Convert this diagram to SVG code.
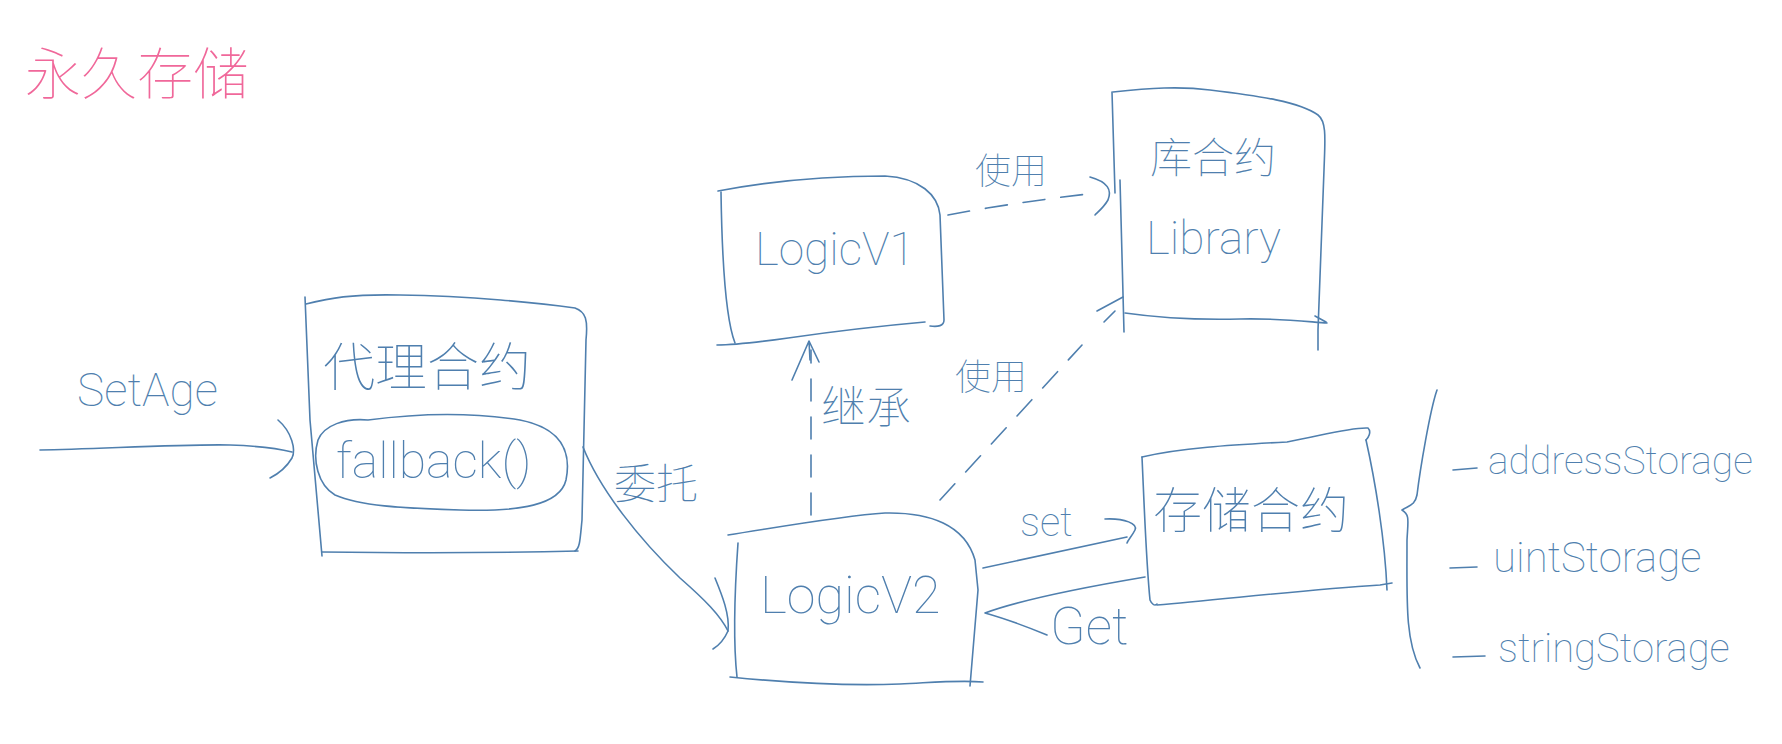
<svg xmlns="http://www.w3.org/2000/svg" width="1782" height="744" viewBox="0 0 1782 744">
<style>
.s{fill:none;stroke:#4f7fae;stroke-width:1.6;stroke-linecap:round;stroke-linejoin:round}
.d{stroke-dasharray:22 16}
.t{fill:#4f7fae;font-family:Roboto,"Liberation Sans","Noto Sans CJK SC",sans-serif;font-weight:100}
.c{fill:#4f7fae;font-family:"Noto Sans CJK SC",sans-serif;font-weight:100}
.p{fill:#f0689a;font-family:"Noto Sans CJK SC",sans-serif;font-weight:100}
</style>
<rect width="1782" height="744" fill="#ffffff"/>
<g id="title">
<text class="p" x="25" y="94" font-size="56">永久存储</text>
</g>
<g id="proxy">
<path class="s" d="M306,304 C330,298 350,294 400,295 C470,296 540,303 575,308 C586,312 588,320 586,340 L582,520 C580,540 580,548 575,551"/>
<path class="s" d="M305,297 L310,420 L322,556"/>
<path class="s" d="M322,552 C400,553 500,553 578,551"/>
<text class="c" x="323" y="386" font-size="52">代理合约</text>
<path class="s" d="M368,420 C420,413 470,412 520,420 C560,428 572,450 566,480 C560,505 520,512 460,510 C400,508 360,506 335,495 C318,485 312,460 318,440 C324,425 345,418 368,420 Z"/>
<text class="t" x="336" y="478" font-size="50">fallback()</text>
</g>
<g id="logicv1">
<path class="s" d="M718,191 C760,183 820,176 885,176 C920,178 938,195 940,215 L944,320 C944,326 938,327 930,326"/>
<path class="s" d="M721,192 C722,260 726,320 735,343"/>
<path class="s" d="M717,345 C760,345 800,333 925,322"/>
<text class="t" x="755" y="265" font-size="46">LogicV1</text>
</g>
<g id="library">
<path class="s" d="M1113,92 C1150,88 1180,86 1210,90 C1260,96 1300,102 1318,115 C1327,122 1325,140 1324,170 L1318,330 L1318,350"/>
<path class="s" d="M1112,92 L1115,193 M1120,180 L1124,332"/>
<path class="s" d="M1125,313 C1160,318 1200,320 1240,319 C1280,318 1310,322 1327,323 M1315,316 L1326,322"/>
<text class="c" x="1150" y="173" font-size="42">库合约</text>
<text class="t" x="1146" y="254" font-size="46">Library</text>
</g>
<g id="logicv2">
<path class="s" d="M728,535 C780,527 840,516 885,513 C930,512 965,525 975,560 L978,590 L970,686"/>
<path class="s" d="M738,543 C734,600 734,650 737,677"/>
<path class="s" d="M730,677 C800,684 850,686 900,684 C940,682 960,680 983,682"/>
<text class="t" x="760" y="613" font-size="52">LogicV2</text>
</g>
<g id="storage">
<path class="s" d="M1142,457 C1180,448 1230,445 1287,442 C1320,436 1350,427 1368,428 C1372,432 1368,438 1366,440"/>
<path class="s" d="M1366,440 C1375,480 1385,540 1387,590"/>
<path class="s" d="M1142,457 C1144,500 1146,560 1150,600 C1152,605 1155,606 1157,604"/>
<path class="s" d="M1157,605 C1220,600 1300,590 1380,585 L1392,583"/>
<text class="c" x="1153" y="528" font-size="49">存储合约</text>
</g>
<g id="storage-list">
<path class="s" d="M1437,390 C1430,410 1420,470 1417,495 C1415,505 1410,505 1402,510 C1410,515 1408,520 1407,540 C1407,600 1405,640 1420,668"/>
<path class="s" d="M1453,470 L1477,468 M1450,568 L1477,567 M1453,657 L1485,656"/>
<text class="t" x="1488" y="474" font-size="39">addressStorage</text>
<text class="t" x="1493" y="572" font-size="42">uintStorage</text>
<text class="t" x="1498" y="662" font-size="40">stringStorage</text>
</g>
<g id="connectors">
<path class="s" d="M40,450 C100,449 180,444 230,445 C260,446 280,449 292,452"/>
<path class="s" d="M278,420 C292,432 296,450 292,458 C286,468 278,474 270,478"/>
<text class="t" x="77" y="406" font-size="46">SetAge</text>
<path class="s" d="M583,447 C600,490 640,540 680,578 C705,600 720,615 728,631"/>
<path class="s" d="M715,578 C722,595 730,615 728,631 C724,640 718,646 713,649"/>
<text class="c" x="614" y="499" font-size="42">委托</text>
<path class="s d" d="M811,515 L811,350"/>
<path class="s" d="M792,380 L809,341 L819,362 M809,341 L810,360"/>
<text class="c" x="821" y="424" font-size="45">继承</text>
<path class="s d" d="M948,215 C1000,205 1060,197 1097,193"/>
<path class="s" d="M1090,177 C1108,182 1112,190 1108,200 C1104,207 1098,212 1095,215"/>
<text class="c" x="975" y="184" font-size="36">使用</text>
<path class="s d" d="M940,500 L1082,345"/>
<path class="s" d="M1097,311 L1123,297 M1104,322 L1115,311"/>
<text class="c" x="955" y="390" font-size="36">使用</text>
<path class="s" d="M983,568 L1127,537"/>
<path class="s" d="M1105,519 C1125,518 1138,524 1135,530 C1132,536 1128,540 1127,543"/>
<text class="t" x="1020" y="536" font-size="40">set</text>
<path class="s" d="M1145,577 C1080,588 1020,600 985,613 C1010,620 1030,628 1047,635"/>
<text class="t" x="1050" y="644" font-size="52">Get</text>
</g>
</svg>
